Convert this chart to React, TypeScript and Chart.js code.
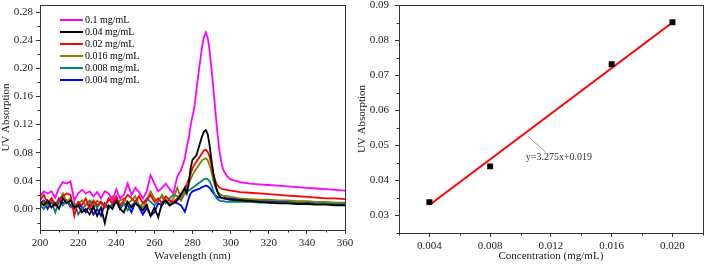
import React, { useEffect, useRef } from "react";
import { Chart, registerables } from "chart.js";
Chart.register(...registerables);

// ---------- Left panel: UV spectra ----------
const WAVELENGTHS = [
  200, 202, 204, 206, 208, 210, 212, 214, 216, 218,
  220, 222, 224, 226, 228, 230, 232, 234, 236, 238,
  240, 242, 244, 246, 248, 250, 252, 254, 256, 258,
  260, 262, 264, 266, 268, 270, 272, 274, 276,
  277, 278, 279, 280, 281, 282, 283, 284, 285, 286,
  287, 288, 289, 290, 291, 292, 293, 294, 295, 296,
  298, 300, 305, 310, 315, 320, 325, 330, 335, 340, 345, 350, 355, 360,
];

const ABS_0_1 = [
  0.018, 0.025, 0.022, 0.025, 0.016, 0.030, 0.038, 0.036, 0.039, 0.012,
  0.022, 0.027, 0.022, 0.025, 0.018, 0.024, 0.015, 0.025, 0.022, 0.012,
  0.028, 0.015, 0.020, 0.036, 0.020, 0.030, 0.024, 0.015, 0.025, 0.048,
  0.036, 0.025, 0.030, 0.036, 0.028, 0.022, 0.046, 0.055, 0.072,
  0.088, 0.100, 0.118, 0.132, 0.145, 0.168, 0.190, 0.210, 0.230, 0.244,
  0.251, 0.243, 0.225, 0.198, 0.170, 0.140, 0.110, 0.085, 0.068, 0.056,
  0.047, 0.042, 0.038, 0.036, 0.035, 0.034, 0.033, 0.032, 0.031, 0.030, 0.029, 0.028, 0.027, 0.026,
];
const ABS_0_04 = [
  0.010, 0.005, 0.012, 0.002, 0.008, 0.000, 0.015, 0.008, 0.012, 0.002,
  0.005, -0.005, 0.000, -0.008, 0.003, -0.010, 0.002, -0.020, 0.005, 0.000,
  0.012, 0.000, -0.005, 0.010, 0.002, 0.008, 0.004, -0.002, 0.006, -0.010,
  0.002, -0.012, 0.008, 0.012, 0.005, 0.008, 0.012, 0.020, 0.030,
  0.022, 0.035, 0.058, 0.070, 0.073, 0.076, 0.085, 0.094, 0.103, 0.110,
  0.112, 0.106, 0.090, 0.068, 0.050, 0.035, 0.025, 0.019, 0.016, 0.015,
  0.014, 0.013, 0.012, 0.011, 0.010, 0.009, 0.008, 0.008, 0.007, 0.007, 0.006, 0.006, 0.005, 0.005,
];
const ABS_0_02 = [
  0.012, 0.020, 0.008, 0.015, 0.005, 0.012, 0.018, 0.022, 0.020, -0.010,
  0.010, 0.005, 0.015, 0.000, 0.012, 0.005, 0.010, 0.002, 0.015, 0.008,
  0.018, 0.005, 0.012, 0.020, 0.015, 0.010, 0.018, 0.008, 0.012, 0.020,
  0.010, 0.015, 0.008, 0.018, 0.012, 0.010, 0.015, 0.022, 0.030,
  0.035, 0.042, 0.050, 0.058, 0.063, 0.067, 0.071, 0.075, 0.079, 0.083,
  0.084, 0.081, 0.074, 0.062, 0.048, 0.040, 0.034, 0.031, 0.029, 0.028,
  0.027, 0.026, 0.024, 0.023, 0.022, 0.021, 0.020, 0.019, 0.018, 0.017, 0.016, 0.015, 0.015, 0.014,
];
const ABS_0_016 = [
  0.002, 0.010, 0.005, 0.015, 0.008, 0.012, 0.022, 0.010, 0.015, 0.005,
  0.008, 0.012, 0.005, 0.010, 0.002, 0.012, 0.008, 0.005, 0.012, 0.018,
  0.008, 0.012, 0.015, 0.008, 0.012, 0.018, 0.005, 0.002, 0.012, 0.025,
  0.015, 0.010, 0.020, 0.012, 0.008, 0.015, 0.030, 0.015, 0.025,
  0.030, 0.036, 0.042, 0.048, 0.053, 0.057, 0.061, 0.065, 0.069, 0.071,
  0.072, 0.069, 0.062, 0.052, 0.040, 0.031, 0.025, 0.022, 0.020, 0.019,
  0.018, 0.017, 0.015, 0.014, 0.013, 0.013, 0.012, 0.012, 0.011, 0.011, 0.010, 0.010, 0.009, 0.009,
];
const ABS_0_008 = [
  0.005, 0.000, 0.008, 0.012, -0.005, 0.010, 0.005, 0.012, 0.002, 0.008,
  -0.008, 0.000, 0.005, 0.012, 0.008, 0.002, 0.010, 0.005, 0.000, 0.008,
  0.012, 0.002, 0.008, -0.002, 0.005, 0.010, 0.002, 0.008, 0.015, 0.010,
  0.005, 0.012, 0.018, 0.008, 0.015, 0.020, 0.018, 0.012, 0.022,
  0.024, 0.026, 0.028, 0.030, 0.032, 0.034, 0.036, 0.038, 0.040, 0.042,
  0.043, 0.042, 0.039, 0.033, 0.025, 0.018, 0.014, 0.012, 0.011, 0.011,
  0.010, 0.010, 0.010, 0.010, 0.009, 0.009, 0.009, 0.009, 0.009, 0.008, 0.008, 0.008, 0.008, 0.008,
];
const ABS_0_004 = [
  0.008, 0.012, 0.000, 0.010, 0.005, 0.015, 0.008, 0.012, 0.005, 0.000,
  0.008, 0.002, -0.005, 0.005, -0.008, 0.000, -0.010, 0.008, 0.002, 0.005,
  0.012, 0.000, 0.008, 0.005, -0.005, 0.010, 0.002, -0.008, 0.002, -0.010,
  -0.005, 0.008, 0.005, 0.012, 0.005, 0.010, 0.008, 0.005, -0.004,
  0.005, 0.015, 0.022, 0.025, 0.026, 0.027, 0.028, 0.029, 0.031, 0.032,
  0.033, 0.032, 0.030, 0.026, 0.022, 0.019, 0.017, 0.016, 0.016, 0.016,
  0.015, 0.015, 0.014, 0.013, 0.012, 0.011, 0.010, 0.010, 0.009, 0.009, 0.008, 0.008, 0.007, 0.007,
];

const SERIES_LABELS = ["0.1 mg/mL", "0.04 mg/mL", "0.02 mg/mL", "0.016 mg/mL", "0.008 mg/mL", "0.004 mg/mL"];
const SERIES_VALUES = [ABS_0_1, ABS_0_04, ABS_0_02, ABS_0_016, ABS_0_008, ABS_0_004];
const SERIES_COLORS = ["#ff00ff", "#000000", "#ff0000", "#808000", "#008080", "#0000ff"];

const UV_X_TICKS = [200, 220, 240, 260, 280, 300, 320, 340, 360];
const UV_Y_TICKS = [0, 0.04, 0.08, 0.12, 0.16, 0.2, 0.24, 0.28];

// ---------- Right panel: calibration ----------
const CONCENTRATIONS = [0.004, 0.008, 0.016, 0.02];
const CONC_ABSORPTION = [0.0338, 0.044, 0.0731, 0.0851];
const FIT_X = [0.004, 0.02];
const FIT_Y = [0.033, 0.085];
const FIT_LABEL = "y=3.275x+0.019";
const CAL_X_TICKS = [0.004, 0.008, 0.012, 0.016, 0.02];
const CAL_Y_TICKS = [0.03, 0.04, 0.05, 0.06, 0.07, 0.08, 0.09];

const FONT = "'Liberation Serif', 'Times New Roman', serif";
const AXIS_COLOR = "#333";

function minorValues(majors: number[], min: number, max: number) {
  const out: number[] = [];
  const step = majors[1] - majors[0];
  const first = majors[0] - step / 2;
  for (let v = first; v <= max + 1e-9; v += step) {
    if (v >= min - 1e-9) out.push(v);
  }
  return out;
}

const framePlugin = {
  id: "frame",
  afterDraw(chart: any) {
    const { ctx, chartArea } = chart;
    const { left, right, top, bottom } = chartArea;
    ctx.save();
    ctx.strokeStyle = AXIS_COLOR;
    ctx.lineWidth = 1;
    ctx.strokeRect(Math.round(left) + 0.5, Math.round(top) + 0.5, Math.round(right - left), Math.round(bottom - top));
    const xs = chart.scales.x;
    const ys = chart.scales.y;
    const xMaj = xs.options.majorTicks as number[];
    const yMaj = ys.options.majorTicks as number[];
    ctx.beginPath();
    for (const v of minorValues(xMaj, xs.min, xs.max)) {
      const p = Math.round(xs.getPixelForValue(v)) + 0.5;
      ctx.moveTo(p, bottom);
      ctx.lineTo(p, bottom + 2.5);
    }
    for (const v of minorValues(yMaj, ys.min, ys.max)) {
      const p = Math.round(ys.getPixelForValue(v)) + 0.5;
      ctx.moveTo(left, p);
      ctx.lineTo(left - 2.5, p);
    }
    ctx.stroke();
    ctx.restore();
  },
};

const legendPlugin = {
  id: "insideLegend",
  afterDraw(chart: any) {
    const { ctx, chartArea } = chart;
    ctx.save();
    ctx.font = `10px ${FONT}`;
    ctx.textBaseline = "middle";
    ctx.textAlign = "left";
    chart.data.datasets.forEach((ds: any, i: number) => {
      const y = chartArea.top + 15 + i * 12;
      ctx.strokeStyle = ds.borderColor;
      ctx.lineWidth = 2;
      ctx.beginPath();
      ctx.moveTo(chartArea.left + 20, y);
      ctx.lineTo(chartArea.left + 43, y);
      ctx.stroke();
      ctx.fillStyle = "#000";
      ctx.fillText(ds.label, chartArea.left + 45, y + 0.5);
    });
    ctx.restore();
  },
};

const fitLabelPlugin = {
  id: "fitLabel",
  afterDraw(chart: any) {
    const { ctx } = chart;
    const xs = chart.scales.x;
    const ys = chart.scales.y;
    const x1 = xs.getPixelForValue(0.0105);
    const y1 = ys.getPixelForValue(0.0525);
    const x2 = xs.getPixelForValue(0.01165);
    const y2 = ys.getPixelForValue(0.0481);
    ctx.save();
    ctx.strokeStyle = "#777";
    ctx.lineWidth = 0.8;
    ctx.beginPath();
    ctx.moveTo(x1, y1);
    ctx.lineTo(x2, y2);
    ctx.stroke();
    ctx.font = `10px ${FONT}`;
    ctx.fillStyle = "#333";
    ctx.textBaseline = "middle";
    ctx.textAlign = "left";
    ctx.fillText(FIT_LABEL, xs.getPixelForValue(0.01035), ys.getPixelForValue(0.0466));
    ctx.restore();
  },
};

function axisCommon(majors: number[], fmt: (v: number) => string, extra: any, fitSize: { width?: number; height?: number }, tickPadding = 3) {
  return {
    type: "linear",
    majorTicks: majors,
    afterBuildTicks: (s: any) => {
      s.ticks = majors.map((v) => ({ value: v }));
    },
    afterFit: (s: any) => {
      if (fitSize.width !== undefined) s.width = fitSize.width;
      if (fitSize.height !== undefined) s.height = fitSize.height;
      s.paddingTop = 0;
      s.paddingBottom = 0;
      s.paddingLeft = 0;
      s.paddingRight = 0;
    },
    border: { display: false },
    grid: {
      display: true,
      drawOnChartArea: false,
      drawTicks: true,
      tickLength: 4,
      tickColor: AXIS_COLOR,
      tickWidth: 1,
    },
    ticks: {
      color: "#222",
      font: { family: FONT, size: 11 },
      padding: tickPadding,
      maxRotation: 0,
      autoSkip: false,
      callback: (v: any) => fmt(Number(v)),
    },
    ...extra,
  };
}

function axisTitle(text: string) {
  return { display: true, text, color: "#222", font: { family: FONT, size: 11 }, padding: { top: 0, bottom: 1 } };
}

function SpectraChart() {
  const ref = useRef<HTMLCanvasElement>(null);
  useEffect(() => {
    const chart = new Chart(ref.current!, {
      type: "line",
      data: {
        datasets: SERIES_VALUES.map((vals, i) => ({
          label: SERIES_LABELS[i],
          data: vals.map((v, j) => ({ x: WAVELENGTHS[j], y: v })),
          borderColor: SERIES_COLORS[i],
          backgroundColor: SERIES_COLORS[i],
          borderWidth: 1.8,
          pointRadius: 0,
          tension: 0,
        })),
      },
      options: {
        responsive: false,
        animation: false,
        layout: { padding: { top: 5, right: 11, bottom: 1, left: 0 } },
        plugins: { legend: { display: false }, tooltip: { enabled: false } },
        scales: {
          x: axisCommon(UV_X_TICKS, (v) => String(Math.round(v)), { min: 200, max: 360, title: axisTitle("Wavelength (nm)") }, { height: 34 }),
          y: axisCommon(UV_Y_TICKS, (v) => v.toFixed(2), { min: -0.03, max: 0.29, title: axisTitle("UV Absorption") }, { width: 40 }),
        },
      } as any,
      plugins: [framePlugin, legendPlugin],
    });
    return () => chart.destroy();
  }, []);
  return <canvas ref={ref} width={356} height={265} style={{ position: "absolute", left: 0, top: 0, width: 356, height: 265 }} />;
}

function CalibrationChart() {
  const ref = useRef<HTMLCanvasElement>(null);
  useEffect(() => {
    const chart = new Chart(ref.current!, {
      type: "scatter",
      data: {
        datasets: [
          {
            label: "Measured",
            data: CONCENTRATIONS.map((c, i) => ({ x: c, y: CONC_ABSORPTION[i] })),
            pointStyle: "rect",
            pointRadius: 4.2,
            backgroundColor: "#000",
            borderColor: "#000",
            borderWidth: 0,
            order: 0,
          },
          {
            type: "line",
            label: "Fit",
            data: FIT_X.map((c, i) => ({ x: c, y: FIT_Y[i] })),
            borderColor: "#ff0000",
            borderWidth: 2,
            pointRadius: 0,
            showLine: true,
            order: 1,
          } as any,
        ],
      },
      options: {
        responsive: false,
        animation: false,
        layout: { padding: { top: 5, right: 2, bottom: 1, left: 0 } },
        plugins: { legend: { display: false }, tooltip: { enabled: false } },
        scales: {
          x: axisCommon(CAL_X_TICKS, (v) => v.toFixed(3), { min: 0.002, max: 0.022, title: axisTitle("Concentration (mg/mL)") }, { height: 31 }),
          y: axisCommon(CAL_Y_TICKS, (v) => v.toFixed(2), { min: 0.025, max: 0.09, title: axisTitle("UV Absorption") }, { width: 43 }, 6),
        },
      } as any,
      plugins: [framePlugin, fitLabelPlugin],
    });
    return () => chart.destroy();
  }, []);
  return <canvas ref={ref} width={351} height={265} style={{ position: "absolute", left: 356, top: 0, width: 351, height: 265 }} />;
}

export default function App() {
  useEffect(() => {
    document.body.style.margin = "0";
  }, []);
  return (
    <div style={{ position: "absolute", left: 0, top: 0, width: 707, height: 265, background: "#fff", overflow: "hidden" }}>
      <SpectraChart />
      <CalibrationChart />
    </div>
  );
}
